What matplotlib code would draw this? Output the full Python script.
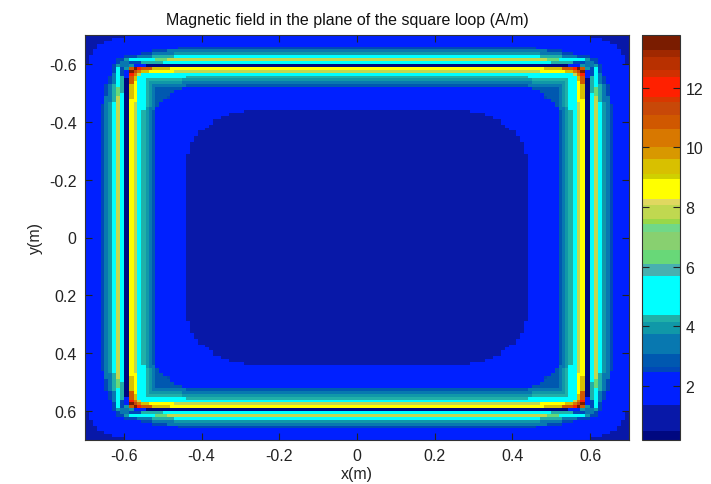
import numpy as np
import matplotlib
matplotlib.use("Agg")
import matplotlib.pyplot as plt
from matplotlib.colors import ListedColormap, BoundaryNorm

plt.rcParams['font.family'] = ['Liberation Sans', 'DejaVu Sans']

# Band limits and colours
levels = [0.18, 0.49, 1.35, 2.45, 2.62, 3.07, 3.74, 4.15, 4.38, 5.67, 6.09, 6.54, 7.16,
          7.44, 7.61, 8.05, 8.28, 8.95, 9.12, 9.62, 10.02, 10.63, 11.08, 11.53, 11.70,
          12.37, 12.59, 13.04, 13.26, 13.77]
band_colors = ['#000880', '#0818a8', '#0020ff', '#0048b8', '#0058b0', '#0878b0', '#1098a8',
               '#20b0a8', '#00ffff', '#48b0b0', '#68d878', '#88d070', '#70d888', '#98d848',
               '#c0d850', '#e0d860', '#ffff00', '#d0d000', '#d8c000', '#d89800',
               '#d87800', '#d05800', '#c84808', '#d83800', '#ff2000', '#d03000', '#b83000',
               '#a02800', '#7a1c00']

# Cell boundaries, as distance in metres from the outer edge of the plot
edge_x_near = [0.00, 0.01, 0.02, 0.03, 0.04, 0.05, 0.06, 0.07, 0.08, 0.09, 0.10,
               0.112, 0.126, 0.134, 0.144, 0.157, 0.165, 0.172, 0.18]
edge_y_near = [0.00, 0.01, 0.02, 0.03, 0.04, 0.05, 0.06, 0.07, 0.08, 0.09, 0.10,
               0.11, 0.12, 0.13, 0.14, 0.15, 0.16, 0.17, 0.18]
half_width = 0.70
far_step = 0.01

# Field (A/m) in one corner. Each row starts on the diagonal
# and its last value holds on to the centre line.
plateau = 1.0
field_rows = [
    [1.0]*10 + [1.8],
    [1.0]*6 + [1.8],
    [1.0]*3 + [1.8],
    [1.8],
    [1.8]*20 + [2.6],
    [1.8]*12 + [2.6]*4 + [3.2],
    [1.8]*8 + [2.6]*3 + [3.2]*6 + [3.8],
    [1.8]*3 + [2.6]*3 + [3.2]*4 + [4.2]*6 + [5.0],
    [2.6]*2 + [3.8] + [5.0]*7 + [6.3]*3 + [7.8],
    [3.2]*2 + [2.6]*3 + [4.2]*6 + [5.0],
    [3.2, 3.8] + [1.8]*3 + [0.3],
    [11.0, 13.5, 11.8] + [10.8]*3 + [9.4]*5 + [8.6],
    [11.5, 10.5] + [9.4]*2 + [8.6]*7 + [7.8],
    [8.0, 5.0],
    [5.0]*12 + [4.2],
    [4.2]*10 + [3.8],
    [3.8]*9 + [3.3],
    [3.3]*9 + [2.9],
    [3.0]*7 + [1.8],
    [2.9]*4 + [1.8],
    [2.8]*2 + [1.8],
    [2.6, 1.8],
    [1.8], [1.8], [1.8], [1.8],
    [1.8]*15 + [1.0],
    [1.8]*10 + [1.0],
    [1.8]*7 + [1.0],
    [1.8]*4 + [1.0],
    [1.8]*3 + [1.0],
    [1.8, 1.0],
]

axis_ticks = [-0.6, -0.4, -0.2, 0, 0.2, 0.4, 0.6]
axis_tick_labels = ['-0.6', '-0.4', '-0.2', '0', '0.2', '0.4', '0.6']
bar_ticks = [2, 4, 6, 8, 10, 12]

# Assemble the full grid from the corner by its mirror symmetry
far = np.arange(len(edge_x_near), round(half_width / far_step) + 1) * far_step
dx = np.concatenate([edge_x_near, far])
dy = np.concatenate([edge_y_near, far])
x_edges = np.concatenate([dx - half_width, (half_width - dx)[-2::-1]])
y_edges = np.concatenate([dy - half_width, (half_width - dy)[-2::-1]])

n = len(dx) - 1
corner = np.full((n, n), plateau)
for i, row in enumerate(field_rows):
    for j in range(i, n):
        value = row[j - i] if j - i < len(row) else row[-1]
        corner[i, j] = value
        corner[j, i] = value
top = np.hstack([corner, corner[:, ::-1]])
field = np.vstack([top, top[::-1, :]])

W, H = 711, 485
fig = plt.figure(figsize=(W / 100, H / 100), dpi=100, facecolor='white')
ax = fig.add_axes([85 / W, 1 - 441 / H, 544 / W, 405 / H])
cax = fig.add_axes([642 / W, 1 - 441 / H, 38 / W, 405 / H])

cmap = ListedColormap(band_colors)
norm = BoundaryNorm(levels, cmap.N)
mesh = ax.pcolormesh(x_edges, y_edges, field, cmap=cmap, norm=norm, shading='flat',
                     edgecolors='none', antialiased=False)
ax.set_xlim(-0.7, 0.7)
ax.set_ylim(0.7, -0.7)
ax.set_xticks(axis_ticks, axis_tick_labels)
ax.set_yticks(axis_ticks, axis_tick_labels)
ax.tick_params(direction='in', top=True, right=True, length=5, width=0.8,
               labelsize=11.5, color='#222222', labelcolor='#222222', pad=6)
ax.set_xlabel('x(m)', fontsize=11.5, color='#222222', labelpad=2)
ax.set_ylabel('y(m)', fontsize=11.5, color='#222222', labelpad=4)
ax.set_title('Magnetic field in the plane of the square loop (A/m)',
             fontsize=11.5, color='#111111', pad=8, x=0.4825)

cb = fig.colorbar(mesh, cax=cax, spacing='proportional', drawedges=False)
cb.set_ticks(bar_ticks)
cb.minorticks_off()
cax.tick_params(direction='in', left=True, right=True, length=5, width=0.8,
                labelsize=11.5, color='#222222', labelcolor='#222222', pad=4)
for a in (ax, cax):
    for s in a.spines.values():
        s.set_linewidth(0.8)
        s.set_color('#333333')

fig.savefig('out.png', dpi=100)
